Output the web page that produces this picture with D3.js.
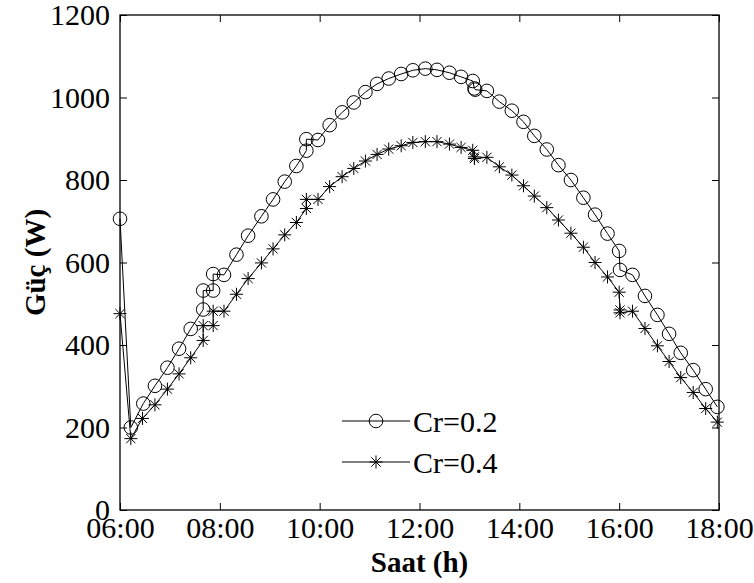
<!DOCTYPE html>
<html>
<head>
<meta charset="utf-8">
<script src="https://cdn.jsdelivr.net/npm/d3@7"></script>
<style>
  body { margin: 0; background: #fff; }
  svg { display: block; }
</style>
</head>
<body>
<svg id="chart" width="754" height="583"></svg>
<script>
// Cr = 0.2 (circles)
var times02 = ["06:00", "06:13", "06:28", "06:42", "06:57", "07:11", "07:25", "07:40", "07:40", "07:52",
    "07:52", "08:05", "08:20", "08:34", "08:50", "09:04", "09:18", "09:32", "09:44", "09:44",
    "09:58", "10:12", "10:27", "10:41", "10:55", "11:09", "11:23", "11:38", "11:52", "12:07",
    "12:21", "12:36", "12:50", "13:04", "13:06", "13:07", "13:21", "13:36", "13:51", "14:05",
    "14:18", "14:33", "14:47", "15:02", "15:17", "15:31", "15:46", "16:00", "16:01", "16:16",
    "16:31", "16:46", "17:00", "17:14", "17:29", "17:44", "17:58"];
var power02 = [706, 200, 258, 301, 345, 391, 439, 486, 532, 532,
    572, 570, 619, 665, 712, 753, 796, 834, 871, 899,
    897, 933, 964, 988, 1013, 1033, 1046, 1057, 1066, 1070,
    1067, 1060, 1050, 1040, 1022, 1019, 1016, 990, 968, 941,
    907, 874, 836, 800, 757, 716, 670, 628, 582, 570,
    519, 473, 427, 381, 339, 293, 250];

// Cr = 0.4 (stars)
var times04 = ["06:00", "06:13", "06:27", "06:42", "06:57", "07:11", "07:25", "07:40", "07:40", "07:52",
    "07:52", "08:05", "08:20", "08:34", "08:50", "09:04", "09:18", "09:32", "09:44", "09:44",
    "09:58", "10:12", "10:27", "10:41", "10:55", "11:09", "11:23", "11:38", "11:52", "12:07",
    "12:21", "12:36", "12:50", "13:04", "13:06", "13:06", "13:21", "13:36", "13:51", "14:05",
    "14:18", "14:33", "14:47", "15:02", "15:17", "15:31", "15:46", "16:00", "16:01", "16:01",
    "16:16", "16:31", "16:46", "17:00", "17:14", "17:29", "17:44", "17:58"];
var power04 = [476, 173, 222, 255, 293, 330, 369, 411, 447, 447,
    482, 482, 523, 561, 599, 633, 667, 697, 731, 753,
    753, 784, 808, 828, 846, 862, 875, 883, 891, 893,
    893, 887, 879, 872, 856, 852, 855, 832, 812, 786,
    761, 733, 703, 671, 637, 600, 565, 528, 485, 478,
    482, 440, 398, 360, 321, 285, 246, 213];

var seriesNames = ["Cr=0.2", "Cr=0.4"];
var xTickLabels = ["06:00", "08:00", "10:00", "12:00", "14:00", "16:00", "18:00"];
var yTicks = [0, 200, 400, 600, 800, 1000, 1200];

var svg = d3.select("svg#chart");
var margin = { left: 120, top: 15, right: 35, bottom: 73 },
    width = 754 - margin.left - margin.right,
    height = 583 - margin.top - margin.bottom;

var parse = d3.timeParse("%H:%M");
var serifFace = "'Liberation Serif', 'FreeSerif', 'Times', serif";

var x = d3.scaleTime()
    .domain([parse("06:00"), parse("18:00")])
    .range([0, width]);
var y = d3.scaleLinear()
    .domain([0, 1200])
    .range([height, 0]);

var g = svg.append("g")
    .attr("transform", "translate(" + margin.left + "," + margin.top + ")");

// axes, ticks pointing inward
var xAxis = g.append("g")
    .attr("transform", "translate(0," + height + ")")
    .call(d3.axisBottom(x)
        .tickValues(xTickLabels.map(parse))
        .tickFormat(d3.timeFormat("%H:%M"))
        .tickSize(-7)
        .tickPadding(7));
g.append("g")
    .call(d3.axisTop(x).tickValues(xTickLabels.map(parse)).tickFormat("").tickSize(-7));
var yAxis = g.append("g")
    .call(d3.axisLeft(y).tickValues(yTicks).tickFormat(d3.format("d")).tickSize(-7).tickPadding(10));
g.append("g")
    .attr("transform", "translate(" + width + ",0)")
    .call(d3.axisRight(y).tickValues(yTicks).tickFormat("").tickSize(-7));

g.selectAll(".domain").remove();
g.selectAll("g").attr("font-family", null).attr("font-size", null);
g.selectAll(".tick line").attr("stroke", "#000").attr("stroke-width", 1);
g.selectAll(".tick text")
    .style("font-size", "30px")
    .attr("fill", "#000");

g.append("rect")
    .attr("width", width)
    .attr("height", height)
    .attr("fill", "none")
    .attr("stroke", "#000")
    .attr("stroke-width", 1.3);

var line = d3.line()
    .x(d => x(parse(d.t)))
    .y(d => y(d.v));

var data02 = times02.map((t, i) => ({ t: t, v: power02[i] }));
var data04 = times04.map((t, i) => ({ t: t, v: power04[i] }));

var star = "M-6.5,0H6.5M0,-6.5V6.5M-4.6,-4.6L4.6,4.6M-4.6,4.6L4.6,-4.6";

function drawMarker(sel, kind) {
    if (kind == 0) {
        sel.append("circle")
            .attr("r", 6.8)
            .attr("fill", "none")
            .attr("stroke", "#000")
            .attr("stroke-width", 1);
    } else {
        sel.append("path")
            .attr("d", star)
            .attr("fill", "none")
            .attr("stroke", "#000")
            .attr("stroke-width", 1);
    }
}

[data02, data04].forEach(function(data, k) {
    g.append("path")
        .datum(data)
        .attr("fill", "none")
        .attr("stroke", "#000")
        .attr("stroke-width", 1)
        .attr("d", line);

    var pts = g.selectAll("g.pt" + k)
        .data(data)
        .enter()
        .append("g")
        .attr("class", "pt" + k)
        .attr("transform", d => "translate(" + x(parse(d.t)) + "," + y(d.v) + ")");
    drawMarker(pts, k);
});

// legend
var legend = g.selectAll("g.legend")
    .data(seriesNames)
    .enter()
    .append("g")
    .attr("class", "legend")
    .attr("transform", (d, i) => "translate(" + (342 - margin.left) + "," + (421 - margin.top + i * 41) + ")");

legend.append("line")
    .attr("x1", 0)
    .attr("x2", 68)
    .attr("stroke", "#000")
    .attr("stroke-width", 1);
legend.each(function(d, i) {
    var m = d3.select(this).append("g").attr("transform", "translate(34,0)");
    drawMarker(m, i);
});
legend.append("text")
    .attr("x", 71)
    .attr("dy", "0.35em")
    .style("font-size", "30px")
    .text(d => d);

// axis titles
svg.append("text")
    .attr("x", margin.left + width / 2)
    .attr("y", 572)
    .attr("text-anchor", "middle")
    .style("font-weight", "bold")
    .style("font-size", "29px")
    .text("Saat (h)");

svg.append("text")
    .attr("transform", "translate(45," + (margin.top + height / 2) + ") rotate(-90)")
    .attr("text-anchor", "middle")
    .style("font-weight", "bold")
    .style("font-size", "29px")
    .text("Güç (W)");

// serif face on every label, re-applied if something resets it
function applySerif() {
    svg.selectAll("text").each(function() {
        if (this.style.getPropertyValue("font-family") != serifFace ||
            this.style.getPropertyPriority("font-family") != "important") {
            this.style.setProperty("font-family", serifFace, "important");
        }
    });
}
applySerif();
new MutationObserver(applySerif).observe(svg.node(), { attributes: true, subtree: true, childList: true });
[0, 50, 200, 500].forEach(t => setTimeout(applySerif, t));
</script>
</body>
</html>
